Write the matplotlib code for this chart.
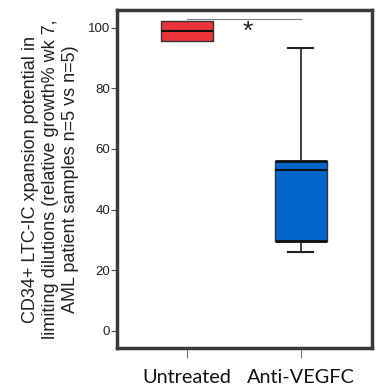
import matplotlib
matplotlib.use("Agg")
import matplotlib.pyplot as plt

# values
groups = ["Untreated", "Anti-VEGFC"]
whislo = [95.6, 26.1]
q1 = [95.6, 29.8]
med = [98.9, 53.0]
q3 = [102.1, 56.1]
whishi = [102.1, 93.2]
colors = ["#EE3338", "#0466CA"]
sig_y = 103.0

stats = []
for i, g in enumerate(groups):
    stats.append(dict(label=g, whislo=whislo[i], q1=q1[i], med=med[i],
                      q3=q3[i], whishi=whishi[i], fliers=[]))

fig = plt.figure(figsize=(3.81, 3.9), dpi=100)
ax = fig.add_axes([0.307, 0.108, 0.669, 0.866])

pos = list(range(len(groups)))
bp = ax.bxp(stats, positions=pos, widths=0.46, patch_artist=True,
            showfliers=False,
            boxprops=dict(edgecolor="#333333", linewidth=1.0),
            medianprops=dict(color="#111111", linewidth=1.5),
            whiskerprops=dict(color="#222222", linewidth=1.2),
            capprops=dict(color="#222222", linewidth=1.5),
            capwidths=0.22)
for patch, c in zip(bp["boxes"], colors):
    patch.set_facecolor(c)
# untreated has no whiskers (all within the box)
for cap in bp["caps"][:2]:
    cap.set_visible(False)

# darker quartile edges on the blue box
ax.hlines([q1[1], q3[1]], pos[1] - 0.23, pos[1] + 0.23, color="#111111", lw=2)

# significance bar
ax.plot([pos[0], pos[1]], [sig_y, sig_y], color="#808080", lw=0.8)
ax.text(0.535, sig_y - 0.5, "*", ha="center", va="top", fontsize=19,
        color="#222222", family="Liberation Sans")

ax.set_xlim(-0.614, 1.623)
ax.set_ylim(-5.6, 105.8)
ax.set_yticks([0, 20, 40, 60, 80, 100])
ax.set_xticks(pos)
ax.set_xticklabels(groups)
ax.tick_params(axis="y", length=4, color="#555555", pad=1,
               labelsize=9.5, labelcolor="#222222",
               labelfontfamily="Liberation Sans")
ax.tick_params(axis="x", length=7, color="#777777", pad=8,
               labelsize=14.3, labelcolor="#111111", labelfontfamily="Lato")

for s in ax.spines.values():
    s.set_linewidth(2.5)
    s.set_color("#3a3a3a")

ax.set_ylabel("CD34+ LTC-IC xpansion potential in\nlimiting dilutions (relative growth% wk 7,\nAML patient samples n=5 vs n=5)",
              fontsize=13, family="Liberation Sans", color="#222222",
              linespacing=1.25, labelpad=6)

fig.savefig("out.png", dpi=100)
